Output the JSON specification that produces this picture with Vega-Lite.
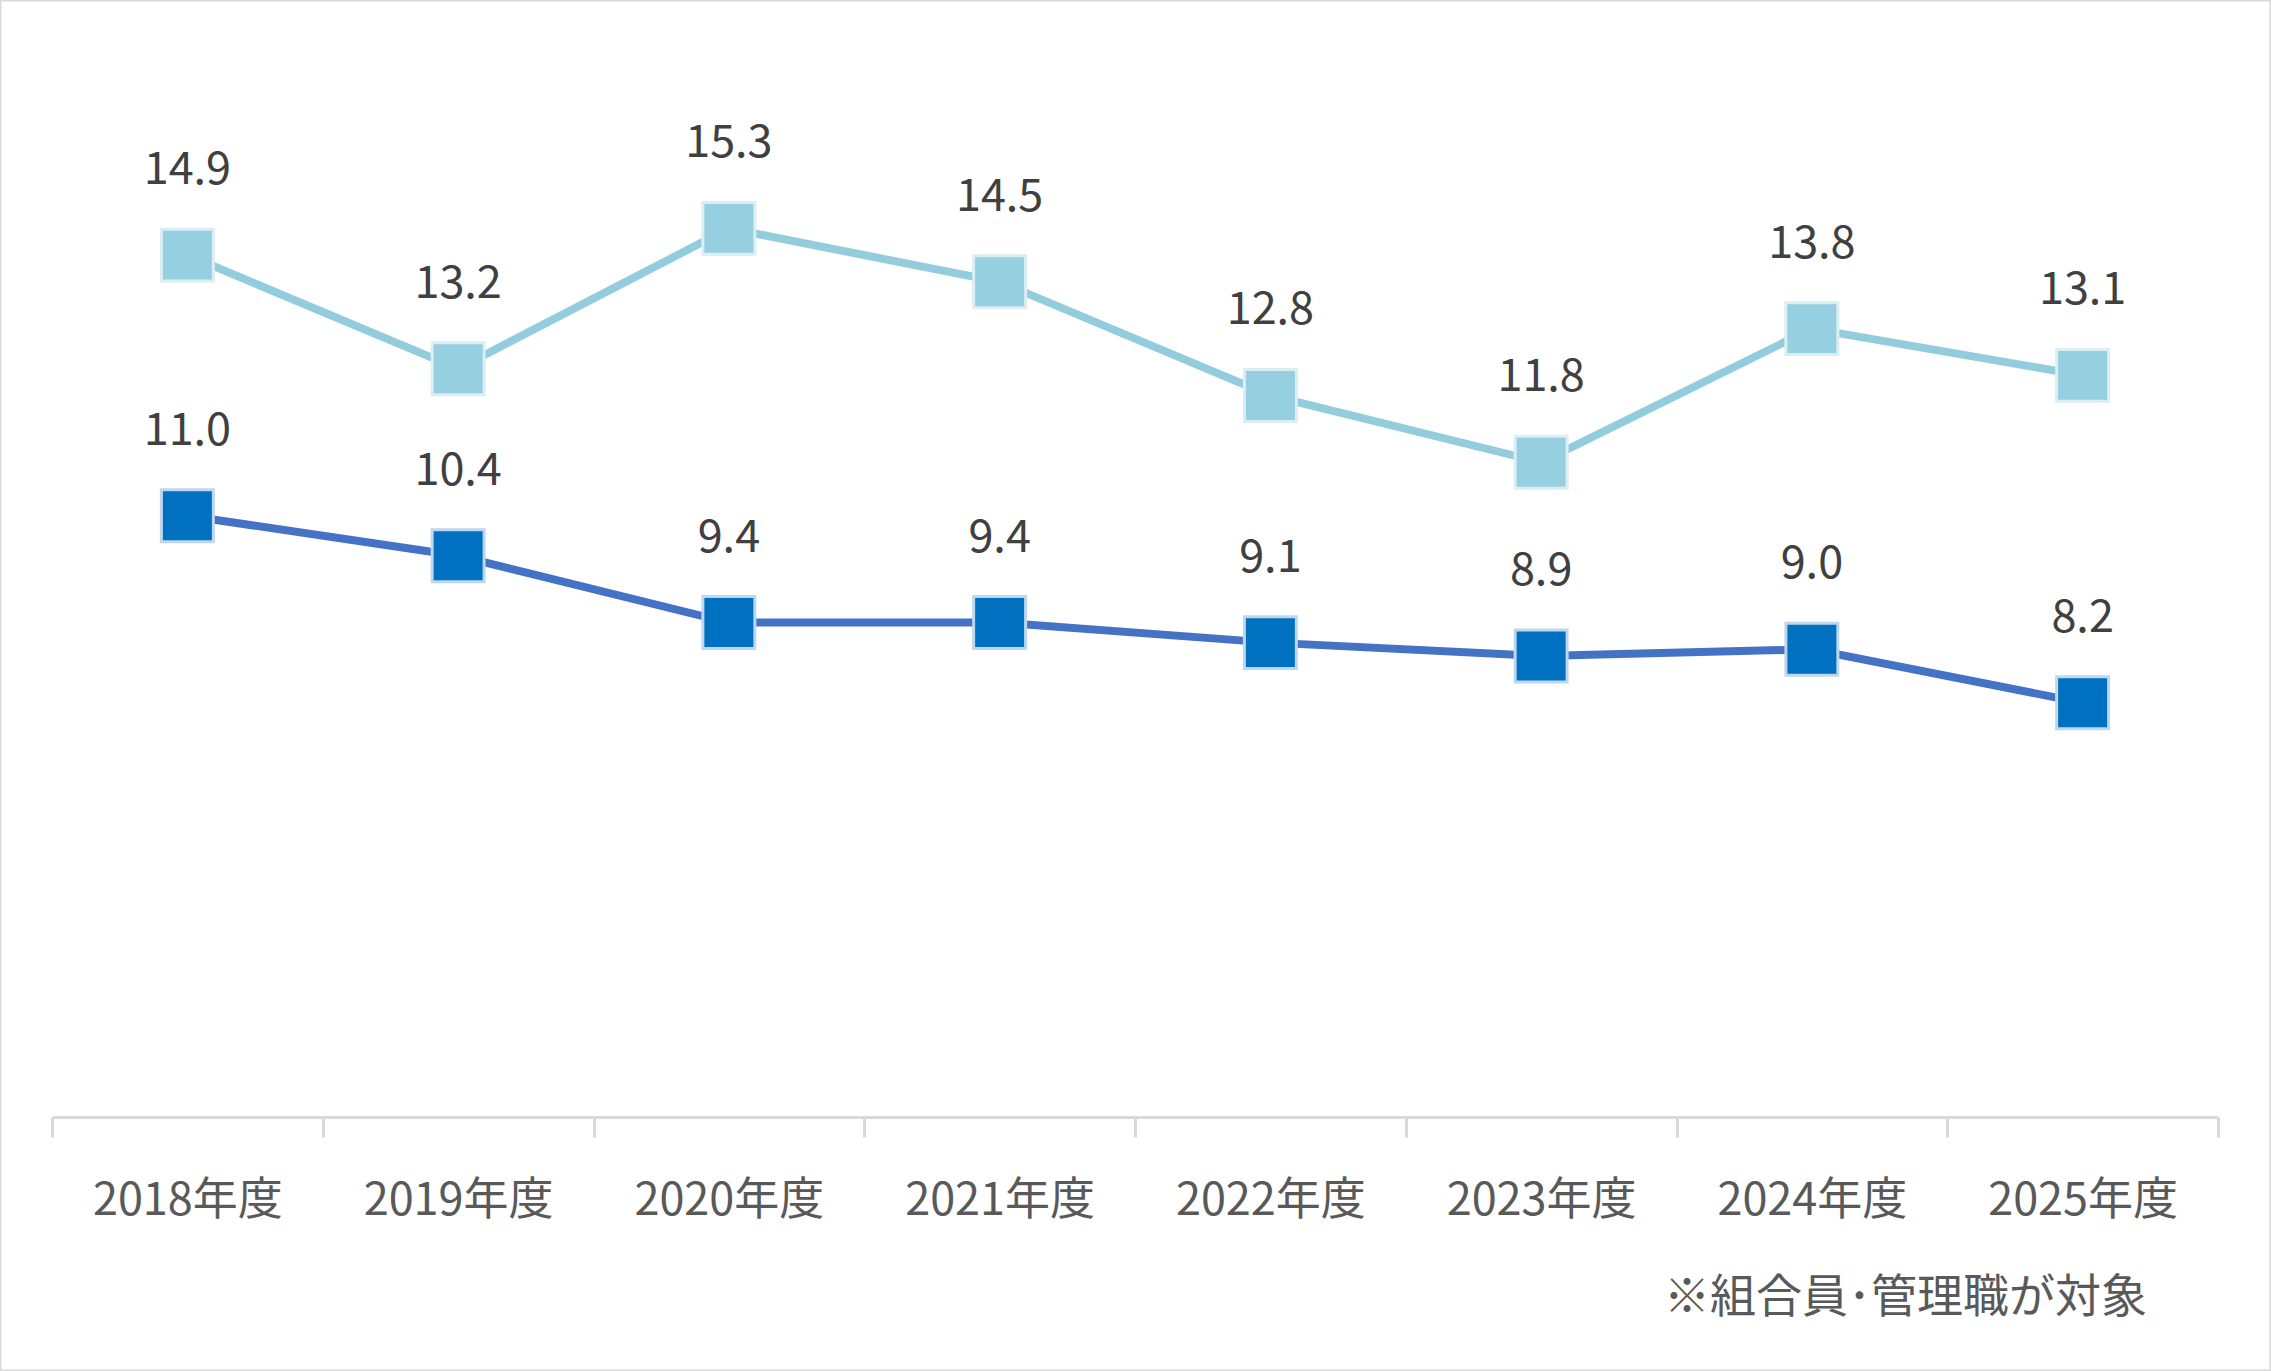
{
  "$schema": "https://vega.github.io/schema/vega-lite/v6.json",
  "width": 2271,
  "height": 1371,
  "padding": 0,
  "autosize": {"type": "none"},
  "background": "white",
  "config": {
    "view": {"stroke": "#D9D9D9", "strokeWidth": 3},
    "font": "Noto Sans CJK JP"
  },
  "title": {
    "text": "※組合員･管理職が対象",
    "orient": "bottom",
    "anchor": "end",
    "frame": "group",
    "offset": -95,
    "dx": -124,
    "fontSize": 46,
    "fontWeight": "normal",
    "color": "#595959",
    "font": "Noto Sans CJK JP"
  },
  "data": {
    "values": [
      {"year": "2018年度", "series": "系列1", "value": 14.9},
      {"year": "2019年度", "series": "系列1", "value": 13.2},
      {"year": "2020年度", "series": "系列1", "value": 15.3},
      {"year": "2021年度", "series": "系列1", "value": 14.5},
      {"year": "2022年度", "series": "系列1", "value": 12.8},
      {"year": "2023年度", "series": "系列1", "value": 11.8},
      {"year": "2024年度", "series": "系列1", "value": 13.8},
      {"year": "2025年度", "series": "系列1", "value": 13.1},
      {"year": "2018年度", "series": "系列2", "value": 11.0},
      {"year": "2019年度", "series": "系列2", "value": 10.4},
      {"year": "2020年度", "series": "系列2", "value": 9.4},
      {"year": "2021年度", "series": "系列2", "value": 9.4},
      {"year": "2022年度", "series": "系列2", "value": 9.1},
      {"year": "2023年度", "series": "系列2", "value": 8.9},
      {"year": "2024年度", "series": "系列2", "value": 9.0},
      {"year": "2025年度", "series": "系列2", "value": 8.2}
    ]
  },
  "encoding": {
    "x": {
      "field": "year",
      "type": "nominal",
      "sort": null,
      "title": null,
      "scale": {"type": "band", "range": [52, 2218], "paddingInner": 0, "paddingOuter": 0},
      "axis": {
        "orient": "bottom",
        "offset": -254,
        "labelAngle": 0,
        "labelFontSize": 45,
        "labelColor": "#595959",
        "labelFont": "Noto Sans CJK JP",
        "labelPadding": 41,
        "labelLimit": 0,
        "domainColor": "#D9D9D9",
        "domainWidth": 3,
        "tickColor": "#D9D9D9",
        "tickWidth": 3,
        "tickSize": 20,
        "tickBand": "extent",
        "grid": false
      }
    },
    "y": {
      "field": "value",
      "type": "quantitative",
      "scale": {"domain": [2, 18], "range": [1117, 48], "nice": false, "zero": false},
      "axis": null
    }
  },
  "layer": [
    {
      "mark": {"type": "line", "strokeWidth": 8},
      "encoding": {
        "color": {
          "field": "series",
          "type": "nominal",
          "scale": {"domain": ["系列1", "系列2"], "range": ["#93CDDD", "#4472C4"]},
          "legend": null
        }
      }
    },
    {
      "mark": {"type": "point", "shape": "square", "filled": true, "size": 2700, "strokeWidth": 3, "opacity": 1},
      "encoding": {
        "fill": {
          "field": "series",
          "type": "nominal",
          "scale": {"domain": ["系列1", "系列2"], "range": ["#96CFDF", "#0070C0"]},
          "legend": null
        },
        "stroke": {
          "field": "series",
          "type": "nominal",
          "scale": {"domain": ["系列1", "系列2"], "range": ["#DAEEF3", "#BDD7EE"]},
          "legend": null
        }
      }
    },
    {
      "mark": {"type": "text", "baseline": "middle", "align": "center", "dy": -85, "fontSize": 45, "color": "#404040", "font": "Noto Sans CJK JP"},
      "encoding": {
        "text": {"field": "value", "type": "quantitative", "format": ".1f"}
      }
    }
  ]
}
